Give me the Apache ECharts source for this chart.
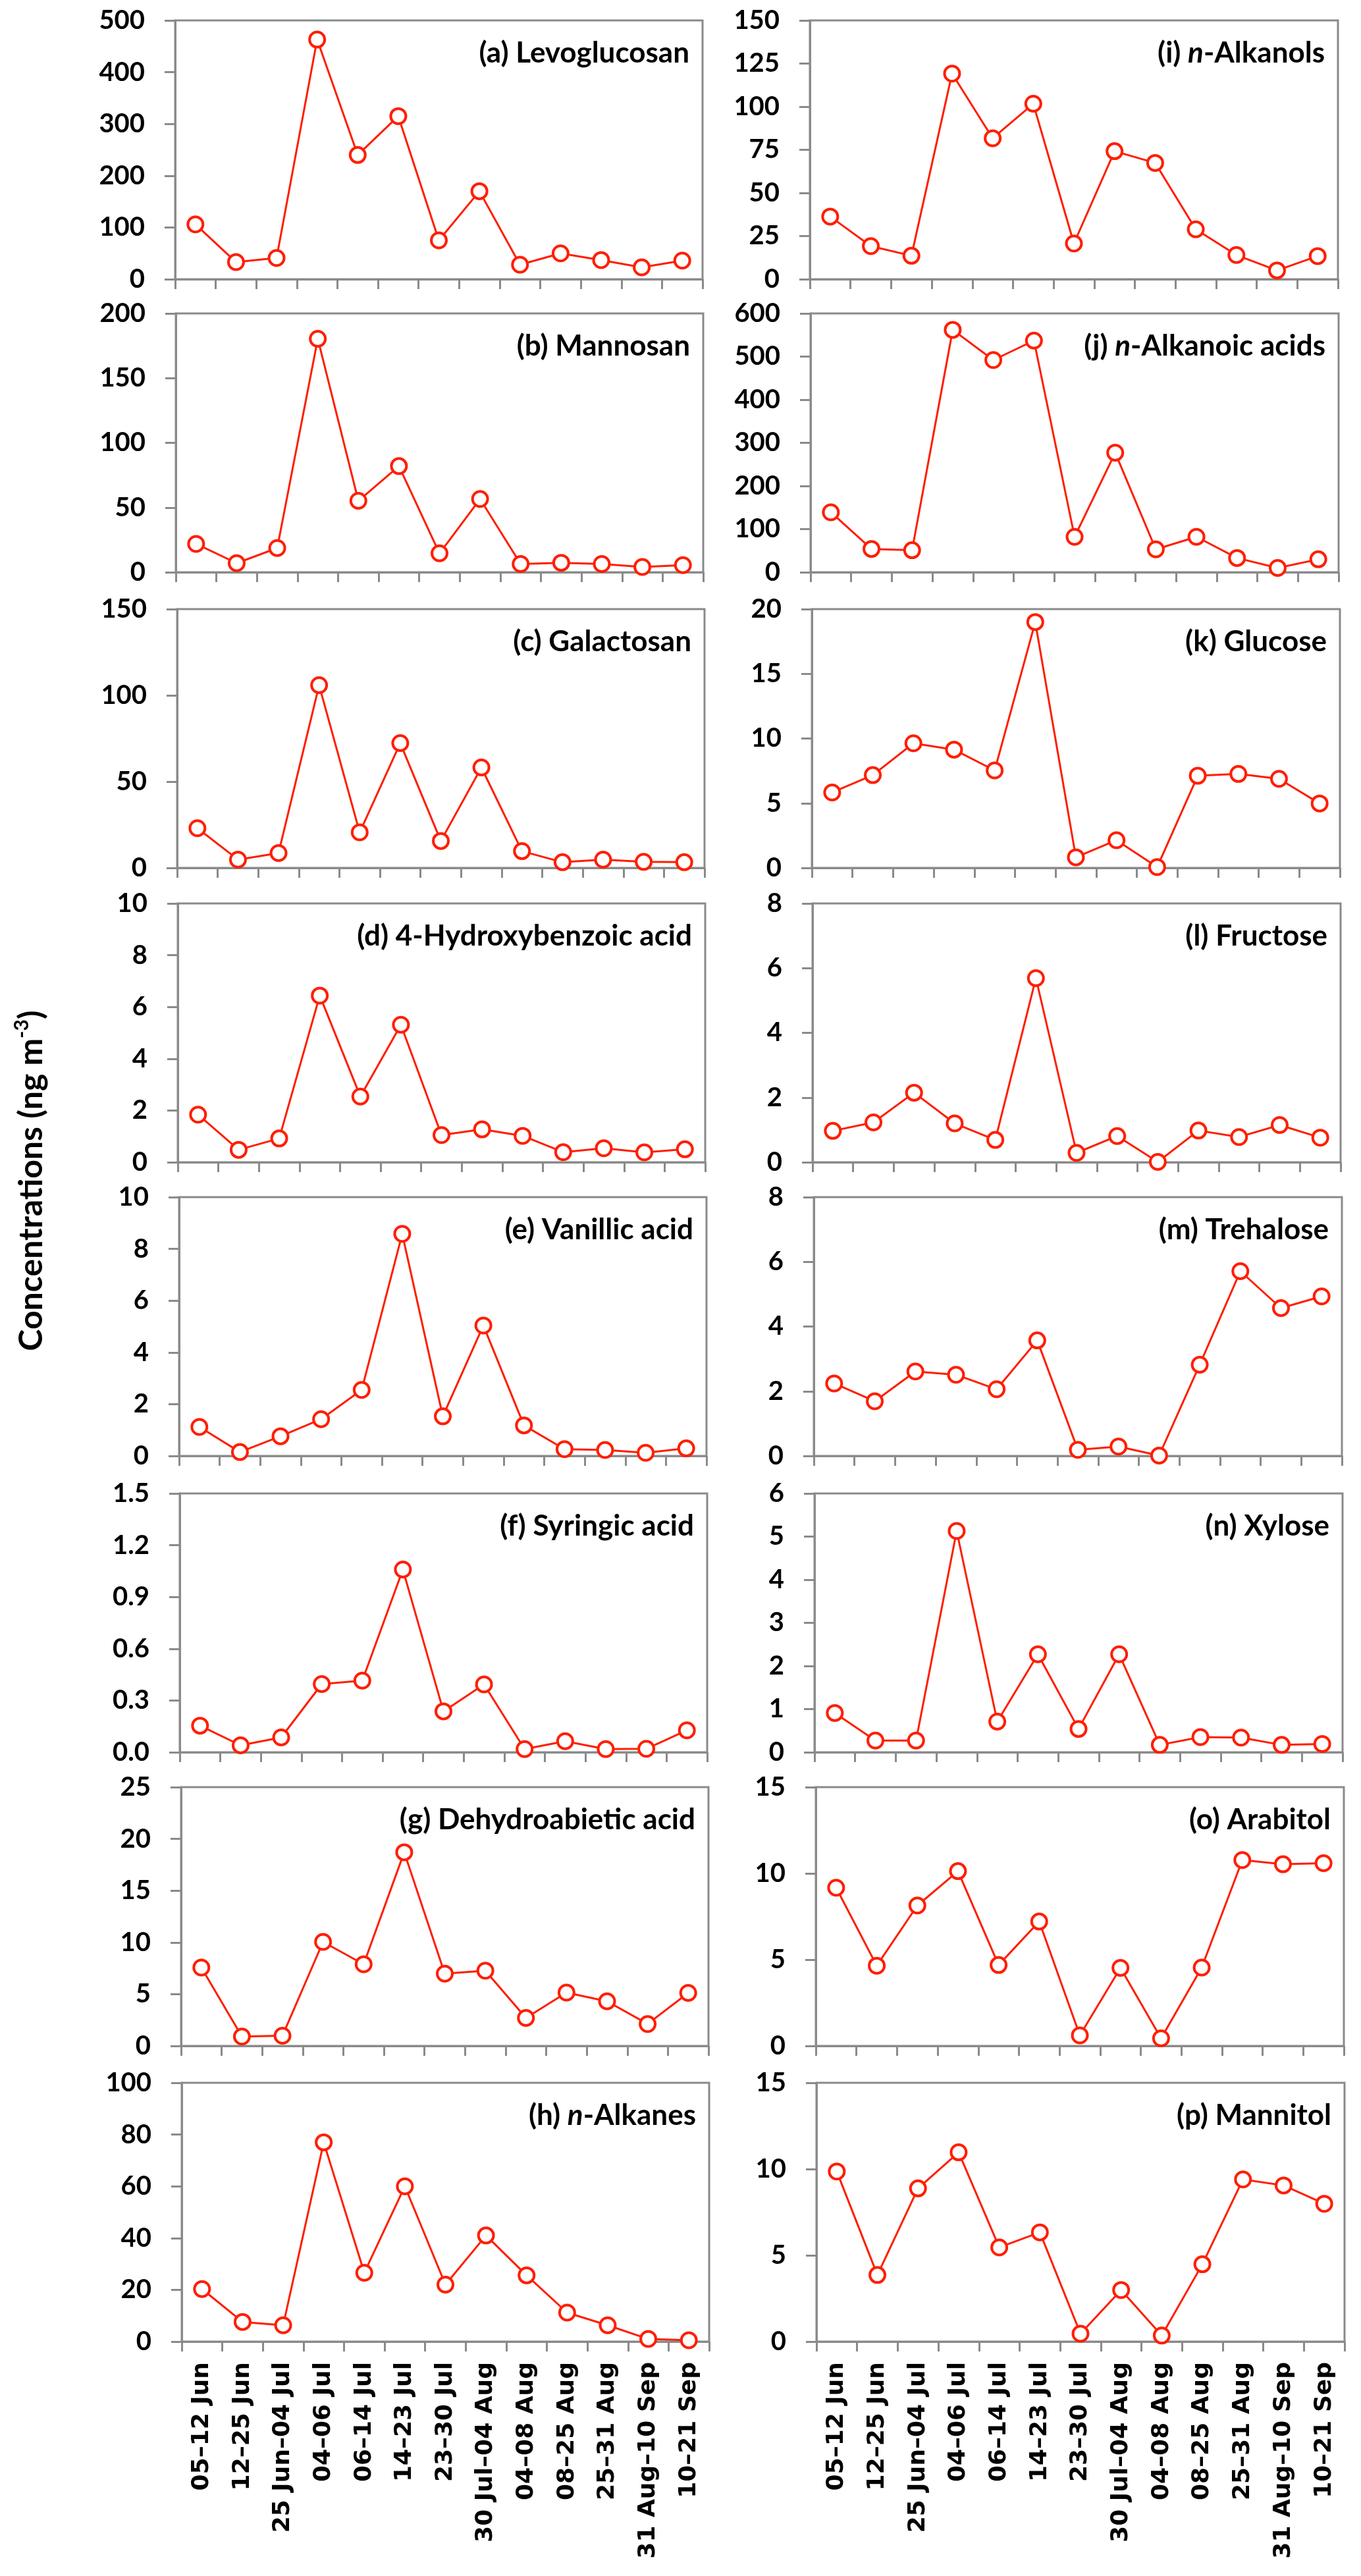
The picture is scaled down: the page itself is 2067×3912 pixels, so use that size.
<!DOCTYPE html>
<html>
<head>
<meta charset="utf-8">
<script src="https://cdn.jsdelivr.net/npm/echarts@6/dist/echarts.min.js"></script>
<style>
html,body{margin:0;padding:0;background:#fff;}
#chart{width:2067px;height:3912px;}
</style>
</head>
<body>
<div id="chart"></div>
<script>
// ---------- DATA ----------
var categories = ['05\u201312 Jun','12\u201325 Jun','25 Jun\u201304 Jul','04\u201306 Jul','06\u201314 Jul','14\u201323 Jul','23\u201330 Jul','30 Jul\u201304 Aug','04\u201308 Aug','08\u201325 Aug','25\u201331 Aug','31 Aug\u201310 Sep','10\u201321 Sep'];

var levoglucosan   = [106, 33, 41, 463, 240, 315, 75, 170, 28, 50, 37, 23, 36];
var mannosan       = [21.9, 7, 18.7, 180.4, 55.2, 82, 14.6, 56.6, 6.4, 7.3, 6.4, 4.1, 5.5];
var galactosan     = [23, 4.8, 8.6, 105.9, 20.6, 72.3, 15.6, 58.2, 9.7, 3.3, 4.8, 3.5, 3.3];
var hydroxybenzoic = [1.84, 0.48, 0.92, 6.44, 2.54, 5.31, 1.05, 1.27, 1.02, 0.39, 0.54, 0.38, 0.5];
var vanillic       = [1.12, 0.15, 0.76, 1.42, 2.55, 8.58, 1.53, 5.04, 1.18, 0.26, 0.23, 0.12, 0.29];
var syringic       = [0.154, 0.04, 0.086, 0.395, 0.415, 1.059, 0.237, 0.393, 0.018, 0.064, 0.018, 0.02, 0.127];
var dehydroabietic = [7.57, 0.91, 0.99, 10.05, 7.89, 18.71, 6.98, 7.27, 2.7, 5.15, 4.31, 2.12, 5.12];
var alkanes        = [20.3, 7.6, 6.3, 77, 26.6, 60, 22, 41, 25.6, 11.2, 6.3, 1, 0.5];
var alkanols       = [36.3, 19.2, 13.6, 119.2, 81.7, 101.7, 20.7, 74.2, 67.4, 28.9, 14, 5.1, 13.4];
var alkanoicAcids  = [139, 54, 51, 562, 492, 537, 82, 277, 53, 82, 33, 10, 30];
var glucose        = [5.83, 7.17, 9.63, 9.14, 7.53, 19.0, 0.82, 2.14, 0.06, 7.12, 7.26, 6.88, 4.98];
var fructose       = [0.97, 1.23, 2.15, 1.2, 0.69, 5.69, 0.29, 0.81, 0.01, 0.98, 0.78, 1.15, 0.76];
var trehalose      = [2.24, 1.69, 2.61, 2.51, 2.06, 3.57, 0.19, 0.29, 0.01, 2.82, 5.71, 4.57, 4.93];
var xylose         = [0.91, 0.27, 0.27, 5.13, 0.71, 2.27, 0.54, 2.27, 0.17, 0.35, 0.34, 0.17, 0.19];
var arabitol       = [9.17, 4.65, 8.14, 10.13, 4.69, 7.21, 0.61, 4.52, 0.44, 4.54, 10.77, 10.53, 10.59];
var mannitol       = [9.86, 3.86, 8.88, 10.97, 5.46, 6.33, 0.46, 2.99, 0.35, 4.48, 9.4, 9.05, 7.99];

var panelTitles = ['(a) Levoglucosan','(b) Mannosan','(c) Galactosan','(d) 4-Hydroxybenzoic acid','(e) Vanillic acid','(f) Syringic acid','(g) Dehydroabietic acid','(h) {it|n}-Alkanes',
                   '(i) {it|n}-Alkanols','(j) {it|n}-Alkanoic acids','(k) Glucose','(l) Fructose','(m) Trehalose','(n) Xylose','(o) Arabitol','(p) Mannitol'];
var yMax  = [500, 200, 150, 10, 10, 1.5, 25, 100,   150, 600, 20, 8, 8, 6, 15, 15];
var yStep = [100, 50, 50, 2, 2, 0.3, 5, 20,          25, 100, 5, 2, 2, 1, 5, 5];
var yDecimals = [0,0,0,0,0,1,0,0, 0,0,0,0,0,0,0,0];
var yAxisTitle = 'Concentrations (ng m';
var yAxisTitleSup = '-3';

var panelSeries = [levoglucosan, mannosan, galactosan, hydroxybenzoic, vanillic, syringic, dehydroabietic, alkanes,
                   alkanols, alkanoicAcids, glucose, fructose, trehalose, xylose, arabitol, mannitol];

// ---------- LAYOUT ----------
var RED = '#ff1e00';
var GRAY = '#8a8a8a';
var rowTops = [31, 476, 925, 1372, 1818, 2268, 2714, 3163];
var panelH = 393;
var colLeft = [266, 1230];
var colWidth = [801, 802];
var rowShift = 1.43;

function makeFormatter(dec) { return function (v) { return Number(v).toFixed(dec); }; }

function buildOption() {
  var grids = [], xAxes = [], yAxes = [], series = [], graphics = [];
  for (var i = 0; i < 16; i++) {
    var col = i < 8 ? 0 : 1;
    var row = i % 8;
    var gLeft = Math.round(colLeft[col] + rowShift * row);
    var gTop = rowTops[row];
    var gW = colWidth[col];
    grids.push({left: gLeft, top: gTop, width: gW, height: panelH, show: true, borderColor: GRAY, borderWidth: 3});
    xAxes.push({
      type: 'category', gridIndex: i, data: categories.slice(), boundaryGap: true,
      axisLine: {show: true, lineStyle: {color: GRAY, width: 3}},
      axisTick: {show: true, interval: 0, length: 15, lineStyle: {color: GRAY, width: 3}},
      axisLabel: {show: row === 7, interval: 0, rotate: 90, margin: 31, color: '#000', fontFamily: 'DejaVu Sans', fontWeight: 'bold', fontSize: 36},
      splitLine: {show: false}
    });
    yAxes.push({
      type: 'value', gridIndex: i, min: 0, max: yMax[i], interval: yStep[i],
      axisLine: {show: true, lineStyle: {color: GRAY, width: 3}},
      axisTick: {show: true, length: 16, lineStyle: {color: GRAY, width: 3}},
      axisLabel: {show: true, margin: 46, color: '#000', fontFamily: 'Lato', fontWeight: 'bold', fontSize: 40,
                  formatter: makeFormatter(yDecimals[i])},
      splitLine: {show: false}
    });
    series.push({
      type: 'line', xAxisIndex: i, yAxisIndex: i, data: panelSeries[i].slice(),
      symbol: 'circle', symbolSize: 23, showAllSymbol: true,
      itemStyle: {color: '#fff', borderColor: RED, borderWidth: 4},
      lineStyle: {color: RED, width: 3},
      z: 5
    });
    graphics.push({
      type: 'text', x: gLeft + gW - 20, y: gTop + 50, z: 10,
      style: {
        text: panelTitles[i], align: 'right', verticalAlign: 'middle',
        fontFamily: 'Lato', fontWeight: 'bold', fontSize: 44, fill: '#000',
        rich: {it: {fontFamily: 'Lato', fontWeight: 'bold', fontStyle: 'italic', fontSize: 44, fill: '#000'}}
      }
    });
  }
  graphics.push({
    type: 'text', x: 48, y: 1793, rotation: Math.PI / 2, z: 10,
    style: {
      text: '{b|' + yAxisTitle + '}{s|' + yAxisTitleSup + '}{b|)}',
      align: 'center', verticalAlign: 'middle',
      rich: {
        b: {fontFamily: 'Lato', fontWeight: 'bold', fontSize: 50, lineHeight: 60, fill: '#000'},
        s: {fontFamily: 'Lato', fontWeight: 'bold', fontSize: 30, lineHeight: 60, verticalAlign: 'top', fill: '#000'}
      }
    }
  });
  return {animation: false, backgroundColor: '#fff', grid: grids, xAxis: xAxes, yAxis: yAxes, series: series, graphic: graphics};
}

var chart = echarts.init(document.getElementById('chart'), null, {renderer: 'canvas'});
chart.setOption(buildOption());
</script>
</body>
</html>
